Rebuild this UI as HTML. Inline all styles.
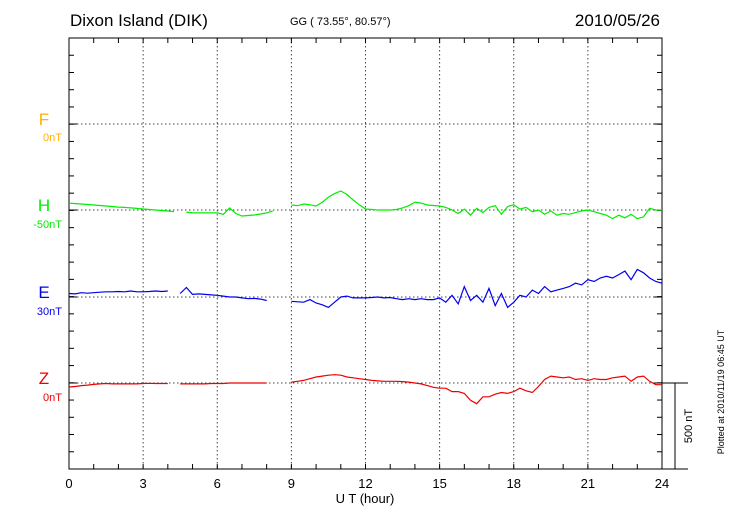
<!DOCTYPE html>
<html><head><meta charset="utf-8"><style>
html,body{margin:0;padding:0;background:#fff;}
svg{display:block;font-family:"Liberation Sans",sans-serif;}
</style></head><body>
<svg id="c" width="730" height="520">
<text x="70" y="26" font-size="17" fill="#000">Dixon Island (DIK)</text>
<text x="290" y="25" font-size="11" fill="#000">GG ( 73.55°,  80.57°)</text>
<text x="660" y="26" font-size="17" fill="#000" text-anchor="end">2010/05/26</text>
<g><text x="44" y="125" font-size="17" fill="#ffb000" text-anchor="middle">F</text><text x="62" y="141" font-size="11" fill="#ffb000" text-anchor="end">0nT</text></g>
<g><text x="44" y="211" font-size="17" fill="#00ee00" text-anchor="middle">H</text><text x="62" y="228" font-size="11" fill="#00ee00" text-anchor="end">-50nT</text></g>
<g><text x="44" y="298" font-size="17" fill="#0000ee" text-anchor="middle">E</text><text x="62" y="315" font-size="11" fill="#0000ee" text-anchor="end">30nT</text></g>
<g><text x="44" y="384" font-size="17" fill="#ee0000" text-anchor="middle">Z</text><text x="62" y="401" font-size="11" fill="#ee0000" text-anchor="end">0nT</text></g>
<text x="365" y="503" font-size="13" text-anchor="middle">U T (hour)</text>
<text transform="translate(724,392) rotate(-90)" font-size="9" text-anchor="middle">Plotted at 2010/11/19 06:45 UT</text>
<text transform="translate(692,426) rotate(-90)" font-size="11" text-anchor="middle">500 nT</text>
<g id="grid"></g><g id="axes"></g><g id="series"></g>
</svg>
<script>
const hours=[0,3,6,9,12,15,18,21,24];
const xTickLabels=["0","3","6","9","12","15","18","21","24"];
const baselines=[{name:"F",y:124},{name:"H",y:210},{name:"E",y:297},{name:"Z",y:383}];
const hVals=[40,37,35,32,29,26,23,20,17,15,12,9,6,3,0,-3,-6,-9,null,-12,-17,-17,-17,-17,-17,-25,12,-20,-35,-32,-29,-23,-17,-5,null,null,29,25,35,30,23,45,75,95,110,90,58,30,6,3,0,0,0,3,12,25,46,40,29,26,23,15,0,-20,5,-30,10,-15,15,25,-25,20,30,5,15,-10,0,-25,-5,-30,-20,-25,-15,-5,0,-10,-20,-30,-50,-30,-45,-25,-50,-40,10,0,0];
const eVals=[20,18,25,22,25,28,30,30,32,30,35,30,30,32,35,32,35,null,20,55,15,18,15,12,10,5,0,0,-5,-10,-8,-12,-20,null,null,null,-25,-28,-30,-15,-35,-45,-60,-30,0,5,-5,-5,-5,-3,0,-5,-3,-10,-15,-10,-15,-10,-15,-15,-5,-30,10,-40,60,-20,10,-30,50,-50,20,-60,-30,10,0,40,20,60,30,40,50,60,80,70,100,90,110,120,110,130,150,100,160,140,110,90,80];
const zVals=[-23,-20,-15,-12,-8,-5,-3,-5,-5,-5,-5,-5,-3,-2,-3,-3,-3,null,-5,-5,-5,-5,-5,-3,-3,-3,0,0,0,0,0,0,0,null,null,null,5,10,15,25,35,40,45,48,45,35,30,25,20,15,12,10,10,10,8,5,0,-5,-15,-25,-30,-30,-50,-50,-60,-100,-120,-80,-80,-65,-55,-60,-50,-30,-45,-55,-20,20,40,35,30,35,20,25,15,25,20,20,30,35,40,10,35,40,10,-10,-10];
const L=69,R=662,T=38,B=469;
const xs=h=>L+(R-L)*h/24;
const pxPerNT=86.3/500;
const ys=(base,v)=>base-v*pxPerNT;
const NS="http://www.w3.org/2000/svg";
function mk(tag,attrs,parent){const e=document.createElementNS(NS,tag);for(const k in attrs)e.setAttribute(k,attrs[k]);parent.appendChild(e);return e;}
const grid=document.getElementById('grid'),axes=document.getElementById('axes'),ser=document.getElementById('series');
hours.forEach((h,i)=>{
 if(i>0&&i<hours.length-1){const g=mk('line',{x1:xs(h),x2:xs(h),y1:T,y2:B,stroke:'#444','stroke-dasharray':'1.5,2.5','stroke-width':1},grid);
 
 }
 const t=mk('text',{x:xs(h),y:488,'font-size':13,'text-anchor':'middle'},axes);t.textContent=xTickLabels[i];
 
 
});
for(let h=0;h<=24;h++){mk('line',{x1:xs(h),x2:xs(h),y1:T,y2:T+5,stroke:'#000'},axes);mk('line',{x1:xs(h),x2:xs(h),y1:B,y2:B-5,stroke:'#000'},axes);}
baselines.forEach(b=>{const g=mk('line',{x1:L,x2:R,y1:b.y,y2:b.y,stroke:'#444','stroke-dasharray':'1.5,2.5'},grid);
 
 
 mk('line',{x1:L,x2:L+8,y1:b.y,y2:b.y,stroke:'#000'},axes);mk('line',{x1:R-8,x2:R,y1:b.y,y2:b.y,stroke:'#000'},axes);});
for(let i=0;i<=25;i++){const y=T+(B-T)*i/25;mk('line',{x1:L,x2:L+5,y1:y,y2:y,stroke:'#000'},axes);mk('line',{x1:R-5,x2:R,y1:y,y2:y,stroke:'#000'},axes);}
const frame=mk('rect',{x:L,y:T,width:R-L,height:B-T,fill:'none',stroke:'#000','stroke-width':1},axes);


mk('line',{x1:R,x2:688,y1:383,y2:383,stroke:'#000'},axes);
mk('line',{x1:R,x2:688,y1:B,y2:B,stroke:'#000'},axes);
const sb=mk('line',{x1:675,x2:675,y1:383,y2:B,stroke:'#000'},axes);


function draw(vals,base,color,name){let d='',pen=false;
 vals.forEach((v,i)=>{if(v===null){pen=false;return;}const x=xs(i*0.25),y=ys(base,v);d+=(pen?'L':'M')+x.toFixed(1)+','+y.toFixed(1);pen=true;});
 const p=mk('path',{d:d,fill:'none',stroke:color,'stroke-width':1.2},ser);
 
 }
draw(hVals,210,'#00ee00','h-series-line');
draw(eVals,297,'#0000ee','e-series-line');
draw(zVals,383,'#ee0000','z-series-line');
</script>
</body></html>
